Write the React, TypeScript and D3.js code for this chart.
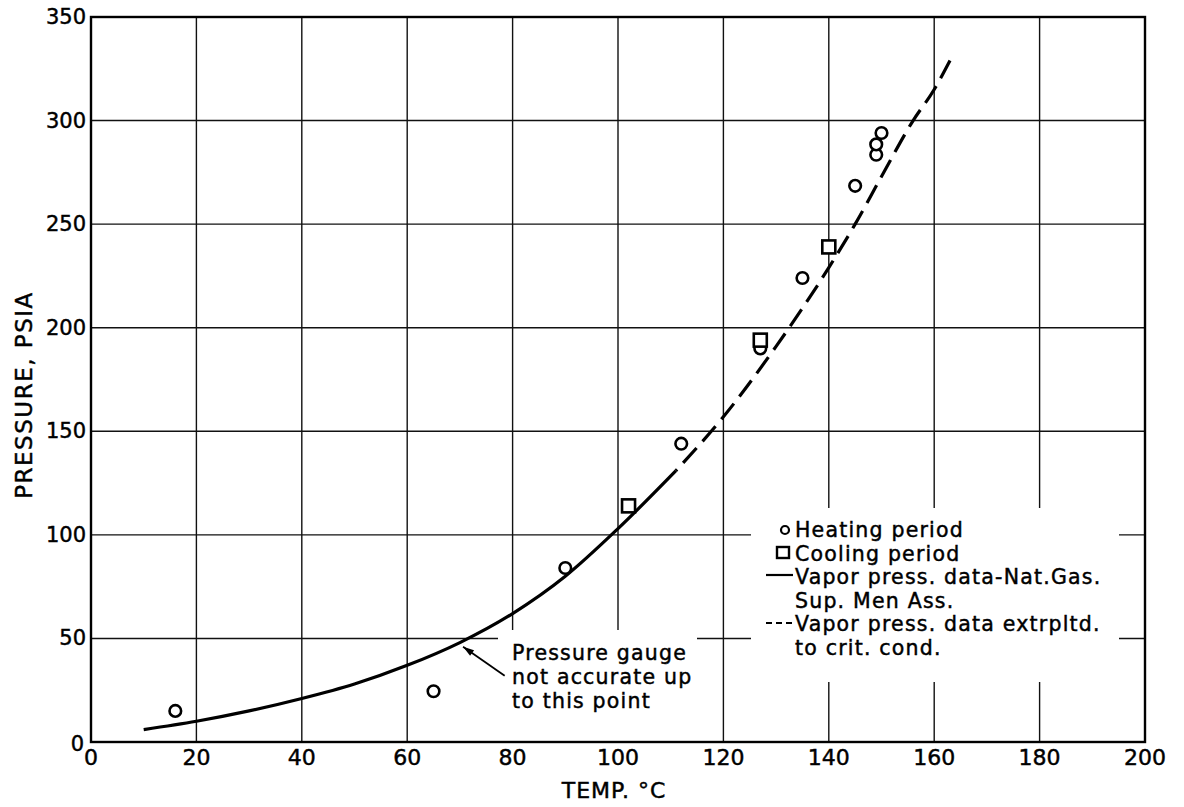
import React, { useEffect, useRef } from 'react';
import * as d3 from 'd3';

const heatingPoints: [number, number][] = [
  [16, 15], [65, 24.5], [90, 84], [112, 144], [127, 190], [135, 224],
  [145, 268.5], [149, 283.5], [149, 288.5], [150, 294],
];
const coolingPoints: [number, number][] = [
  [102, 114], [127, 194], [140, 239],
];
// Vapor pressure curve: published part (solid) and extrapolated part (dashed)
const vaporSolid: [number, number][] = [
  [10, 6], [20, 10], [30, 15], [40, 21], [50, 28], [60, 37], [70, 48],
  [80, 62], [90, 80], [100, 103], [111, 131],
];
const vaporDashed: [number, number][] = [
  [111, 131], [120, 157], [130, 191], [140, 229], [145, 250], [150, 273],
  [156, 300], [160, 315], [163, 329],
];
const xTicks = [0, 20, 40, 60, 80, 100, 120, 140, 160, 180, 200];
const yTicks = [0, 50, 100, 150, 200, 250, 300, 350];
const legendLabels = [
  'Heating period',
  'Cooling period',
  'Vapor press. data-Nat.Gas.',
  'Sup. Men Ass.',
  'Vapor press. data extrpltd.',
  'to crit. cond.',
];
const noteLines = ['Pressure gauge', 'not accurate up', 'to this point'];

const W = 1184;
const H = 807;
const FONT = '"DejaVu Sans", sans-serif';

const App = () => {
  const ref = useRef<SVGSVGElement>(null);

  useEffect(() => {
    const svg = d3.select(ref.current);
    svg.selectAll('*').remove();

    const left = 91, right = 1145, top = 17, bottom = 742;
    const x = d3.scaleLinear().domain([0, 200]).range([left, right]);
    const y = d3.scaleLinear().domain([0, 350]).range([bottom, top]);

    svg.append('rect').attr('width', W).attr('height', H).attr('fill', '#fff');

    // grid
    const grid = svg.append('g').attr('stroke', '#111').attr('stroke-width', 1.4);
    grid.selectAll('line.v')
      .data(xTicks.slice(1, -1))
      .join('line')
      .attr('x1', d => x(d)).attr('x2', d => x(d))
      .attr('y1', top).attr('y2', bottom);
    grid.selectAll('line.h')
      .data(yTicks.slice(1, -1))
      .join('line')
      .attr('x1', left).attr('x2', right)
      .attr('y1', d => y(d)).attr('y2', d => y(d));

    // blank areas behind the legend and the note
    svg.append('rect')
      .attr('x', 751).attr('y', 508).attr('width', 368).attr('height', 174)
      .attr('fill', '#fff');
    svg.append('rect')
      .attr('x', 498).attr('y', 630).attr('width', 199).attr('height', bottom - 631)
      .attr('fill', '#fff');

    // frame
    svg.append('rect')
      .attr('x', left).attr('y', top)
      .attr('width', right - left).attr('height', bottom - top)
      .attr('fill', 'none').attr('stroke', '#000').attr('stroke-width', 2.4);

    // all lettering a touch heavier, like the drafting pen
    const ink = (sel: any) => sel
      .attr('font-family', FONT)
      .attr('fill', '#000')
      .attr('stroke', '#000')
      .attr('stroke-width', 0.45);

    // tick labels
    svg.append('g')
      .call(ink)
      .attr('font-size', 22)
      .attr('text-anchor', 'middle')
      .selectAll('text')
      .data(xTicks)
      .join('text')
      .attr('x', d => x(d))
      .attr('y', 765)
      .text(d => d);
    svg.append('g')
      .call(ink)
      .attr('font-size', 21)
      .attr('text-anchor', 'end')
      .selectAll('text')
      .data(yTicks)
      .join('text')
      .attr('x', d => (d === 0 ? 84 : 86))
      .attr('y', d => (d === 0 ? y(d) + 2 : y(d)))
      .attr('dominant-baseline', 'central')
      .text(d => d);

    // axis titles
    svg.append('text')
      .call(ink)
      .attr('x', 614).attr('y', 798)
      .attr('text-anchor', 'middle')
      .attr('font-size', 22)
      .attr('letter-spacing', 1)
      .text('TEMP. °C');
    svg.append('text')
      .call(ink)
      .attr('transform', 'translate(32,395) rotate(-90)')
      .attr('text-anchor', 'middle')
      .attr('font-size', 23)
      .attr('letter-spacing', 1.5)
      .text('PRESSURE, PSIA');

    // vapor pressure curve
    const line = d3.line<[number, number]>()
      .x(d => x(d[0]))
      .y(d => y(d[1]))
      .curve(d3.curveMonotoneX);
    svg.append('path')
      .attr('d', line(vaporSolid))
      .attr('fill', 'none').attr('stroke', '#000').attr('stroke-width', 3.2);
    const dashed = svg.append('path')
      .attr('d', line(vaporDashed))
      .attr('fill', 'none').attr('stroke', '#000').attr('stroke-width', 3.2)
      .attr('stroke-dasharray', '20 9');
    // make the extrapolated curve finish on a whole dash
    const len = (dashed.node() as SVGPathElement).getTotalLength();
    dashed.attr('stroke-dashoffset', (((20 - len) % 29) + 29) % 29);

    // data points
    svg.append('g')
      .selectAll('circle')
      .data(heatingPoints)
      .join('circle')
      .attr('cx', d => x(d[0])).attr('cy', d => y(d[1]))
      .attr('r', 5.8)
      .attr('fill', '#fff').attr('stroke', '#000').attr('stroke-width', 2.6);
    svg.append('g')
      .selectAll('rect')
      .data(coolingPoints)
      .join('rect')
      .attr('x', d => x(d[0]) - 6.5).attr('y', d => y(d[1]) - 6.5)
      .attr('width', 13).attr('height', 13)
      .attr('fill', '#fff').attr('stroke', '#000').attr('stroke-width', 2.6);

    // note with arrow
    const tip: [number, number] = [70.6, 46];
    const tail: [number, number] = [78.5, 32];
    svg.append('line')
      .attr('x1', x(tail[0])).attr('y1', y(tail[1]))
      .attr('x2', x(tip[0])).attr('y2', y(tip[1]))
      .attr('stroke', '#000').attr('stroke-width', 1.8);
    const ang = Math.atan2(y(tail[1]) - y(tip[1]), x(tail[0]) - x(tip[0]));
    const tx = x(tip[0]), ty = y(tip[1]);
    const hl = 11, hw = 3.5;
    const p1 = [tx + hl * Math.cos(ang) - hw * Math.sin(ang), ty + hl * Math.sin(ang) + hw * Math.cos(ang)];
    const p2 = [tx + hl * Math.cos(ang) + hw * Math.sin(ang), ty + hl * Math.sin(ang) - hw * Math.cos(ang)];
    svg.append('path')
      .attr('d', `M${tx},${ty}L${p1[0]},${p1[1]}L${p2[0]},${p2[1]}Z`)
      .attr('fill', '#000');
    svg.append('g')
      .call(ink)
      .attr('font-size', 20.5)
      .attr('letter-spacing', 1.2)
      .selectAll('text')
      .data(noteLines)
      .join('text')
      .attr('x', 512)
      .attr('y', (_, i) => 660 + i * 24)
      .text(d => d);

    // legend
    const lg = svg.append('g');
    lg.append('g')
      .call(ink)
      .attr('font-size', 20.5)
      .attr('letter-spacing', 1.2)
      .selectAll('text')
      .data(legendLabels)
      .join('text')
      .attr('x', 795)
      .attr('y', (_, i) => 537 + i * 23.6)
      .text(d => d);
    lg.append('circle')
      .attr('cx', 785).attr('cy', 530).attr('r', 4)
      .attr('fill', '#fff').attr('stroke', '#000').attr('stroke-width', 2.2);
    lg.append('rect')
      .attr('x', 777).attr('y', 547).attr('width', 12).attr('height', 11)
      .attr('fill', '#fff').attr('stroke', '#000').attr('stroke-width', 2.4);
    lg.append('line')
      .attr('x1', 766).attr('x2', 793).attr('y1', 575).attr('y2', 575)
      .attr('stroke', '#000').attr('stroke-width', 2.2);
    lg.append('line')
      .attr('x1', 766).attr('x2', 793).attr('y1', 623).attr('y2', 623)
      .attr('stroke', '#000').attr('stroke-width', 2.2)
      .attr('stroke-dasharray', '6 4');
  }, []);

  return (
    <svg
      ref={ref}
      width={W}
      height={H}
      style={{ position: 'absolute', left: 0, top: 0 }}
    />
  );
};

export default App;
